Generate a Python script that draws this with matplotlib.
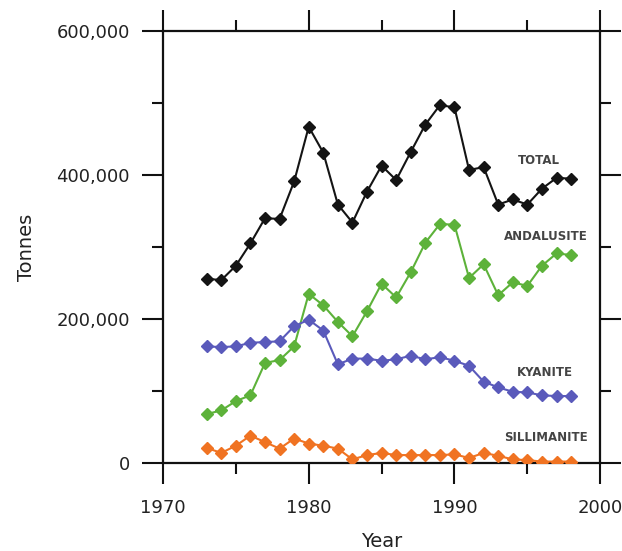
import matplotlib
matplotlib.use("Agg")
import matplotlib.pyplot as plt
from matplotlib.ticker import FuncFormatter, MultipleLocator

years = list(range(1973, 1999))
total = [256, 254, 274, 305, 340, 339, 391, 467, 431, 359, 334, 377, 413, 393,
         432, 470, 497, 494, 407, 411, 359, 366, 359, 381, 396, 395]
andalusite = [68, 73, 86, 94, 139, 143, 162, 235, 219, 196, 176, 211, 249, 230,
              265, 306, 332, 331, 257, 276, 233, 251, 246, 274, 291, 289]
kyanite = [162, 161, 162, 167, 168, 169, 190, 199, 184, 137, 145, 145, 142, 144,
           149, 144, 147, 142, 135, 113, 105, 99, 98, 94, 93, 93]
sillimanite = [21, 14, 24, 38, 29, 20, 34, 27, 24, 20, 5, 11, 14, 11,
               11, 11, 11, 12, 7, 14, 10, 5, 4, 2, 2, 2]

series = [
    ("TOTAL", total, "#141414", 1995.8, 420000),
    ("ANDALUSITE", andalusite, "#5db23a", 1996.3, 315000),
    ("KYANITE", kyanite, "#5a5abb", 1996.2, 126000),
    ("SILLIMANITE", sillimanite, "#f07322", 1996.3, 36000),
]

fig = plt.figure(figsize=(6.22, 5.51), dpi=100)
ax = fig.add_axes([0.262, 0.1597, 0.703, 0.784])

for name, vals, color, lx, ly in series:
    ax.plot(years, [v * 1000 for v in vals], color=color, lw=1.5, marker="D",
            ms=6.3, mec=color, mfc=color, zorder=3)
    ax.text(lx, ly, name, color="#444444", fontsize=8.5, fontweight="bold",
            ha="center", va="center")

ax.set_xlim(1970, 2000)
ax.set_ylim(0, 600000)
ax.xaxis.set_major_locator(MultipleLocator(10))
ax.xaxis.set_minor_locator(MultipleLocator(5))
ax.yaxis.set_major_locator(MultipleLocator(200000))
ax.yaxis.set_minor_locator(MultipleLocator(100000))
ax.yaxis.set_major_formatter(FuncFormatter(lambda v, p: f"{int(v):,}"))

ax.tick_params(which="both", direction="out", top=True, right=True,
               width=1.5, color="#111111", labelsize=13, labelcolor="#222222")
ax.tick_params(which="major", length=15)
ax.tick_params(which="minor", length=8)
ax.tick_params(axis="y", which="major", pad=9)
ax.tick_params(axis="x", which="major", pad=11)
for s in ax.spines.values():
    s.set_linewidth(1.6)
    s.set_color("#111111")

ax.set_xlabel("Year", fontsize=14, color="#222222", labelpad=11)
ax.set_ylabel("Tonnes", fontsize=14, color="#222222")
ax.yaxis.set_label_coords(-0.29, 0.5)

fig.savefig("out.png", dpi=100)
